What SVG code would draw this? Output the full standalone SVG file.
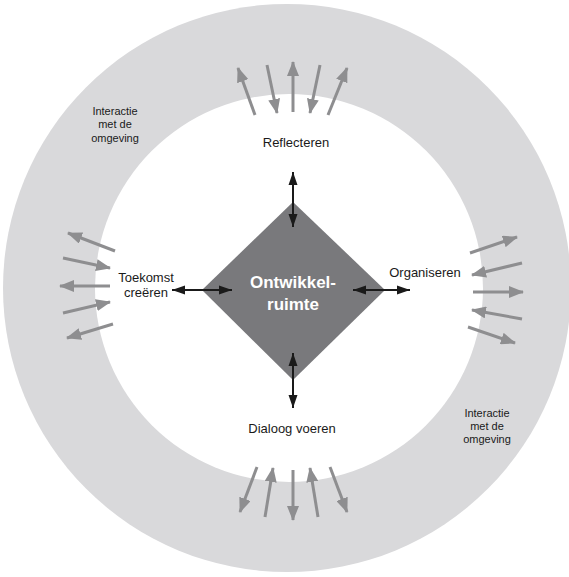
<svg xmlns="http://www.w3.org/2000/svg" width="569" height="577" viewBox="0 0 569 577">
<defs>
<marker id="gh" markerUnits="userSpaceOnUse" markerWidth="15" markerHeight="12" refX="14" refY="6" orient="auto-start-reverse" viewBox="0 0 15 12">
<path d="M0,0 L15,6 L0,12 z" fill="#8e8e90"/>
</marker>
<marker id="bh" markerUnits="userSpaceOnUse" markerWidth="13" markerHeight="10" refX="13" refY="4.5" orient="auto-start-reverse" viewBox="0 0 13 9">
<path d="M0,0 L13,4.5 L0,9 z" fill="#1a1a1a"/>
</marker>
<style>
.g{stroke:#8e8e90;stroke-width:3;fill:none;marker-end:url(#gh)}
.b{stroke:#1a1a1a;stroke-width:2;fill:none;marker-start:url(#bh);marker-end:url(#bh)}
.lbl{font-family:"Liberation Sans",Arial,sans-serif;font-size:13px;fill:#1a1a1a;text-anchor:middle}
.sm{font-family:"Liberation Sans",Arial,sans-serif;font-size:11px;fill:#1a1a1a;text-anchor:middle}
.ct{font-family:"Liberation Sans",Arial,sans-serif;font-size:17px;font-weight:bold;fill:#ffffff;text-anchor:middle}
</style>
</defs>
<g id="ring">
<circle cx="287" cy="288" r="284" fill="#d9d9db"/>
<circle cx="289" cy="288" r="194" fill="#ffffff"/>
</g>
<g id="ring-labels">
<text class="sm" x="115" y="115">Interactie</text>
<text class="sm" x="115" y="128">met de</text>
<text class="sm" x="115" y="142">omgeving</text>
<text class="sm" x="487" y="417">Interactie</text>
<text class="sm" x="487" y="430">met de</text>
<text class="sm" x="487" y="443">omgeving</text>
</g>
<g id="center">
<polygon points="293,202 385,290 293,380 202,290" fill="#79797c"/>
<text class="ct" x="293" y="288">Ontwikkel-</text>
<text class="ct" x="293" y="310">ruimte</text>
</g>
<g id="reflecteren"><text class="lbl" x="296" y="147">Reflecteren</text></g>
<g id="toekomst"><text class="lbl" x="146" y="282">Toekomst</text><text class="lbl" x="146" y="297">creëren</text></g>
<g id="organiseren"><text class="lbl" x="425" y="277">Organiseren</text></g>
<g id="dialoog"><text class="lbl" x="292" y="433">Dialoog voeren</text></g>
<g id="connectors">
<line class="b" x1="293" y1="172" x2="293" y2="227"/>
<line class="b" x1="293" y1="353" x2="293" y2="408"/>
<line class="b" x1="172" y1="290" x2="232" y2="290"/>
<line class="b" x1="353" y1="290" x2="410" y2="290"/>
<line class="g" x1="255" y1="115" x2="238" y2="68"/>
<line class="g" x1="267" y1="65" x2="277" y2="113"/>
<line class="g" x1="293" y1="112" x2="293" y2="62"/>
<line class="g" x1="320" y1="65" x2="310" y2="113"/>
<line class="g" x1="328" y1="115" x2="347" y2="68"/>
<line class="g" x1="257" y1="467" x2="240" y2="512"/>
<line class="g" x1="265" y1="517" x2="273" y2="468"/>
<line class="g" x1="293" y1="470" x2="293" y2="520"/>
<line class="g" x1="318" y1="517" x2="310" y2="468"/>
<line class="g" x1="330" y1="467" x2="347" y2="512"/>
<line class="g" x1="115" y1="251" x2="68" y2="233"/>
<line class="g" x1="63" y1="258" x2="110" y2="268"/>
<line class="g" x1="110" y1="286" x2="60" y2="286"/>
<line class="g" x1="63" y1="313" x2="110" y2="302"/>
<line class="g" x1="113" y1="324" x2="67" y2="338"/>
<line class="g" x1="470" y1="253" x2="517" y2="237"/>
<line class="g" x1="522" y1="263" x2="472" y2="275"/>
<line class="g" x1="473" y1="292" x2="523" y2="292"/>
<line class="g" x1="522" y1="319" x2="472" y2="310"/>
<line class="g" x1="468" y1="327" x2="515" y2="343"/>
</g>
</svg>
